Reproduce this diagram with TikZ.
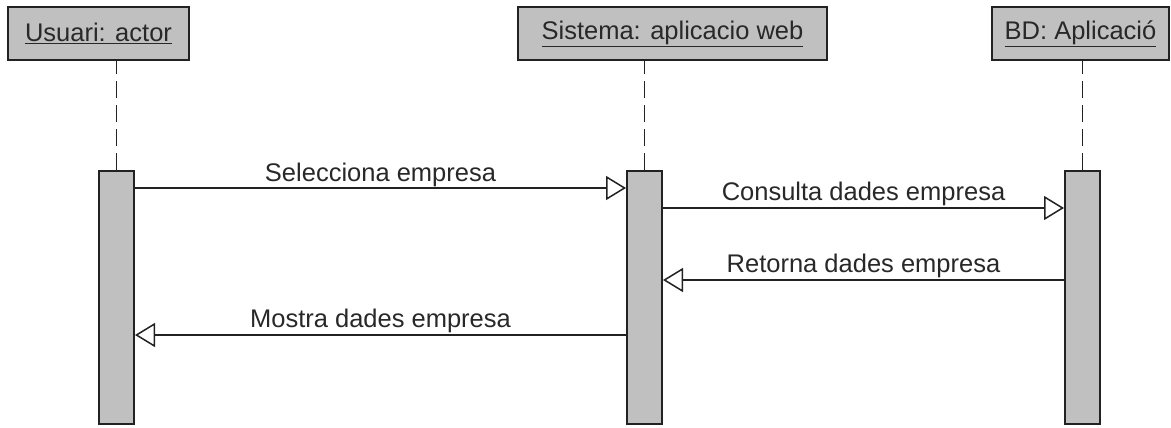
\documentclass[tikz,border=0pt]{standalone}
\usepackage{fontspec}
\setmainfont{Liberation Sans}
\usepackage{xcolor}
\usepackage{tikz}
\usetikzlibrary{positioning, calc, arrows.meta}
\definecolor{sqGray}{RGB}{192, 192, 192}
\definecolor{sqLine}{RGB}{34, 34, 34}
\definecolor{sqText}{RGB}{40, 40, 40}
\tikzset{
    base/.style={
        font=\fontsize{25.5}{30}\selectfont,
        text=sqText
    },
    header/.style={
        base,
        rectangle,
        draw=sqLine,
        line width=2pt,
        fill=sqGray,
        minimum height=53pt,
        inner sep=0pt
    },
    activation/.style={
        rectangle,
        draw=sqLine,
        line width=2pt,
        fill=sqGray,
        minimum width=35pt,
        minimum height=253pt,
        inner sep=0pt
    },
    lifeline/.style={
        line width=1.5pt,
        draw=sqLine,
        dash pattern=on 17pt off 7pt
    },
    message/.style={
        -{Triangle[open, length=20pt, width=24pt, fill=white]},
        line width=1.5pt,
        draw=sqLine
    },
    msglabel/.style={
        base,
        anchor=base,
        inner sep=0pt
    }
}

\begin{document}
\begin{tikzpicture}[x=1pt, y=-1pt]
  \useasboundingbox (0,0) rectangle (1171,428);

  % capcaleres
  \node[header, minimum width=181pt] (usuari) at (98.5,33.5) {\underline{Usuari: actor}};
  \node[header, minimum width=309pt] (sistema) at (672.5,33.5) {\underline{Sistema: aplicacio web}};
  \node[header, minimum width=177pt] (bd) at (1080.5,33.5) {\underline{BD: Aplicació}};

  % barres d'activacio
  \node[activation] (actUsuari) at (116.5,297.5) {};
  \node[activation] (actSistema) at (644.5,297.5) {};
  \node[activation] (actBD) at (1082.5,297.5) {};

  \draw[lifeline] (actUsuari.north) -- (actUsuari.north |- usuari.south);
  \draw[lifeline] (actSistema.north) -- (actSistema.north |- sistema.south);
  \draw[lifeline] (actBD.north) -- (actBD.north |- bd.south);

  % missatges
  \coordinate (m1) at (0,188);
  \coordinate (m2) at (0,208);
  \coordinate (m3) at (0,280);
  \coordinate (m4) at (0,335);

  \draw[message] (actUsuari.east |- m1) -- (actSistema.west |- m1);
  \draw[message] (actSistema.east |- m2) -- (actBD.west |- m2);
  \draw[message] (actBD.west |- m3) -- (actSistema.east |- m3);
  \draw[message] (actSistema.west |- m4) -- (actUsuari.east |- m4);

  \node[msglabel] (lblSelecciona) at ($(actUsuari.east |- m1)!0.5!(actSistema.west |- m1) + (0,-7)$) {Selecciona empresa};
  \node[msglabel] (lblConsulta) at ($(actSistema.east |- m2)!0.5!(actBD.west |- m2) + (0,-8)$) {Consulta dades empresa};
  \node[msglabel] (lblRetorna) at ($(actSistema.east |- m3)!0.5!(actBD.west |- m3) + (0,-8)$) {Retorna dades empresa};
  \node[msglabel] (lblMostra) at ($(actUsuari.east |- m4)!0.5!(actSistema.west |- m4) + (0,-8)$) {Mostra dades empresa};
\end{tikzpicture}
\end{document}
